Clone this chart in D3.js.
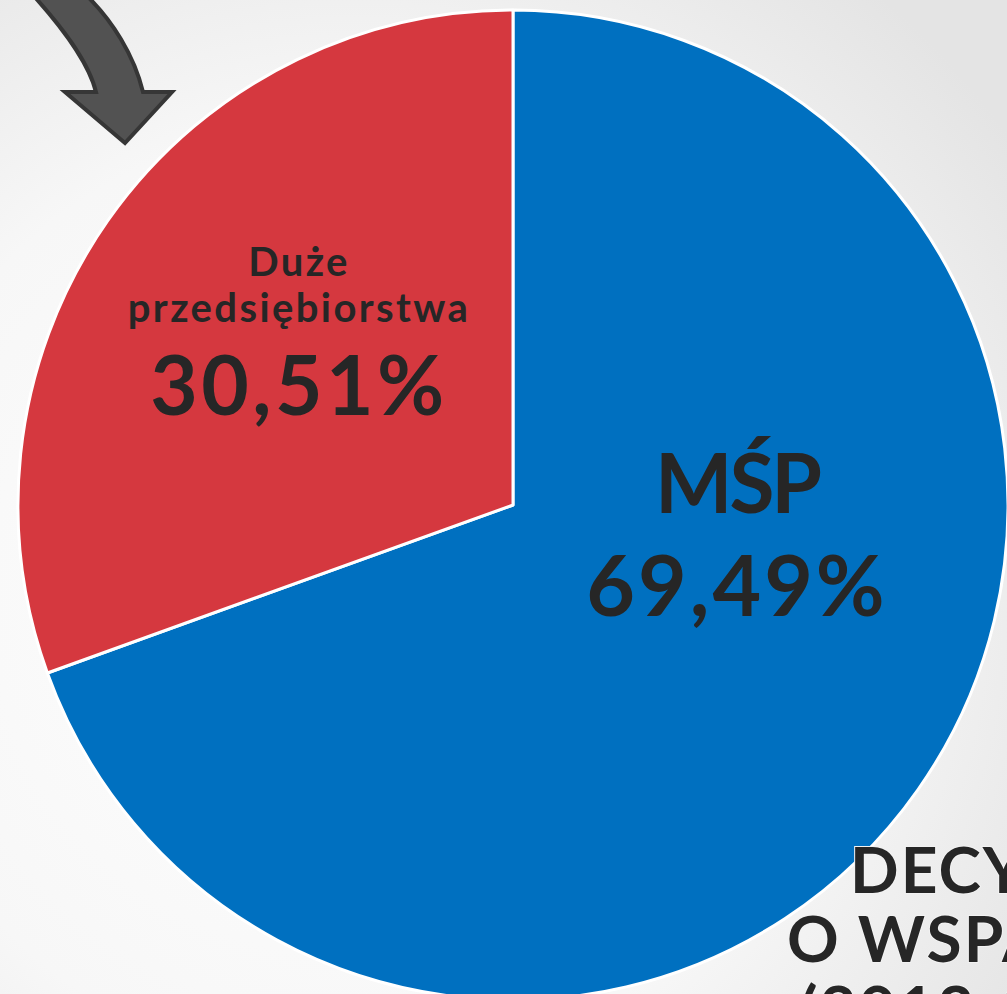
<!DOCTYPE html>
<html lang="pl">
<head>
<meta charset="utf-8">
<title>MŚP vs duże przedsiębiorstwa</title>
<script src="https://cdn.jsdelivr.net/npm/d3@7"></script>
<style>
    body { margin: 0; overflow: hidden; }
    svg { display: block; }
    .lbl { font-family: "Lato", "DejaVu Sans", sans-serif; font-weight: 700; fill: #262626; }
</style>
</head>
<body>
<div id="chart"></div>
<script>
var categories = ["MŚP", "Duże przedsiębiorstwa"];
var values = [69.49, 30.51];
var colors = ["#0070c0", "#d5383f"];
var labelLines = [["MŚP"], ["Duże", "przedsiębiorstwa"]];
var titleLines = ["DECYZJE", "O WSPARCIU", "(2013-2020)"];

var width = 1007, height = 994;
var cx = 513, cy = 505, radius = 495;

var svg = d3.select("#chart").append("svg")
    .attr("width", width)
    .attr("height", height);

// background gradient
var defs = svg.append("defs");
var grad = defs.append("radialGradient")
    .attr("id", "bg")
    .attr("cx", "35%").attr("cy", "60%").attr("r", "80%");
grad.append("stop").attr("offset", "0%").attr("stop-color", "#ffffff");
grad.append("stop").attr("offset", "60%").attr("stop-color", "#f7f7f7");
grad.append("stop").attr("offset", "100%").attr("stop-color", "#e4e4e4");
svg.append("rect").attr("width", width).attr("height", height).attr("fill", "url(#bg)");

var g = svg.append("g").attr("transform", "translate(" + cx + "," + cy + ")");

var pie = d3.pie().sort(null).value(function(d) { return d; });
var arc = d3.arc().innerRadius(0).outerRadius(radius);
var arcs = pie(values);

g.selectAll("path.slice")
    .data(arcs)
    .enter()
    .append("path")
    .attr("class", "slice")
    .attr("d", arc)
    .attr("fill", function(d, i) { return colors[i]; })
    .attr("stroke", "#ffffff")
    .attr("stroke-width", 3)
    .attr("stroke-linejoin", "round");

var fmt = function(v) { return d3.format(".2f")(v).replace(".", ",") + "%"; };

// MŚP label
var l0 = g.append("text").attr("class", "lbl").attr("text-anchor", "middle")
    .attr("transform", "translate(224,0)");
l0.append("tspan").attr("x", 0).attr("y", 8).style("font-size", "82px").attr("letter-spacing", "-3px").text(labelLines[0][0]);
l0.append("tspan").attr("x", 0).attr("y", 111).style("font-size", "84px").attr("letter-spacing", "3px").text(fmt(values[0]));

// Duże label
var l1 = g.append("text").attr("class", "lbl").attr("text-anchor", "middle")
    .attr("transform", "translate(-214,0)");
l1.append("tspan").attr("x", 0).attr("y", -229).style("font-size", "40px").attr("letter-spacing", "2.4px").text(labelLines[1][0]);
l1.append("tspan").attr("x", 0).attr("y", -183).style("font-size", "40px").attr("letter-spacing", "2.4px").text(labelLines[1][1]);
l1.append("tspan").attr("x", 0).attr("y", -90).style("font-size", "82px").attr("letter-spacing", "3.5px").text(fmt(values[1]));

// title block (cropped at bottom right)
var t = svg.append("text").attr("class", "lbl").style("font-size", "64px")
    .attr("stroke", "#f2f2f2").attr("stroke-width", 2).attr("paint-order", "stroke");
var tx = [850, 787, 800], ty = [893, 962, 1032];
titleLines.forEach(function(s, i) {
    t.append("tspan").attr("x", tx[i]).attr("y", ty[i]).attr("letter-spacing", "2px").text(s);
});

// curved arrow in top-left corner
svg.append("path")
    .attr("d", "M33,-5 C60,25 88,60 96,92 L65,92 L125,143 L172,92 L143,92 C134,55 112,20 86,-5 Z")
    .attr("fill", "#525252")
    .attr("stroke", "#363636")
    .attr("stroke-width", 4)
    .attr("stroke-linejoin", "miter");
</script>
</body>
</html>
